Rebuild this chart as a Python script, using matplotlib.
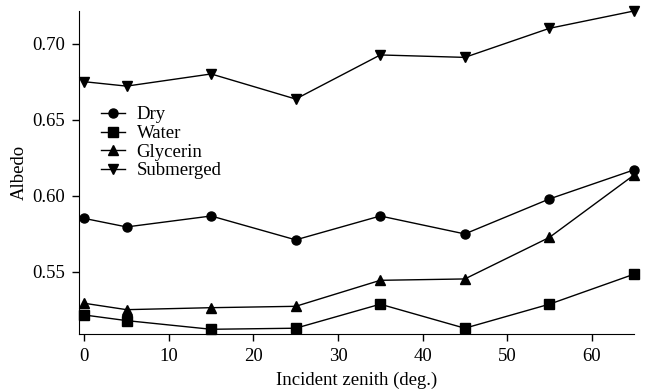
import matplotlib
matplotlib.use('Agg')
import matplotlib.pyplot as plt

plt.rc('font', family='Liberation Serif')

zenith = [0, 5, 15, 25, 35, 45, 55, 65]
dry = [0.585, 0.5794, 0.5866, 0.5709, 0.5866, 0.5748, 0.5978, 0.6169]
water = [0.5215, 0.5178, 0.5121, 0.5128, 0.5286, 0.5128, 0.5286, 0.5483]
glycerin = [0.5292, 0.525, 0.5263, 0.5272, 0.5443, 0.5452, 0.5725, 0.6135]
submerged = [0.6749, 0.672, 0.680, 0.6635, 0.6925, 0.6909, 0.710, 0.7214]

fig = plt.figure(figsize=(6.46, 3.9), dpi=100)
ax = fig.add_axes([0.1223, 0.1436, 0.859, 0.8282])

series = [(dry, 'o', 'Dry'), (water, 's', 'Water'),
          (glycerin, '^', 'Glycerin'), (submerged, 'v', 'Submerged')]
for vals, mk, lab in series:
    ax.plot(zenith, vals, color='black', lw=1.0, marker=mk, ms=6.5,
            label=lab, clip_on=False)

ax.set_xlim(-0.63, 65)
ax.set_ylim(0.509, 0.7214)
ax.set_xticks([0, 10, 20, 30, 40, 50, 60])
ax.set_yticks([0.55, 0.60, 0.65, 0.70])
ax.set_yticklabels(['0.55', '0.60', '0.65', '0.70'])

for s in ['top', 'right']:
    ax.spines[s].set_visible(False)
ax.tick_params(direction='out', length=5, width=1, labelsize=13.5,
               color='black', pad=5)
ax.set_xlabel('Incident zenith (deg.)', fontsize=13.5, labelpad=5)
ax.set_ylabel('Albedo', fontsize=13.5, labelpad=3)

ax.legend(loc='upper left', bbox_to_anchor=(0.026, 0.728), frameon=False,
          fontsize=13.5, handlelength=1.3, labelspacing=0.08,
          handletextpad=0.6, borderaxespad=0)

fig.savefig('out.png', dpi=100)
